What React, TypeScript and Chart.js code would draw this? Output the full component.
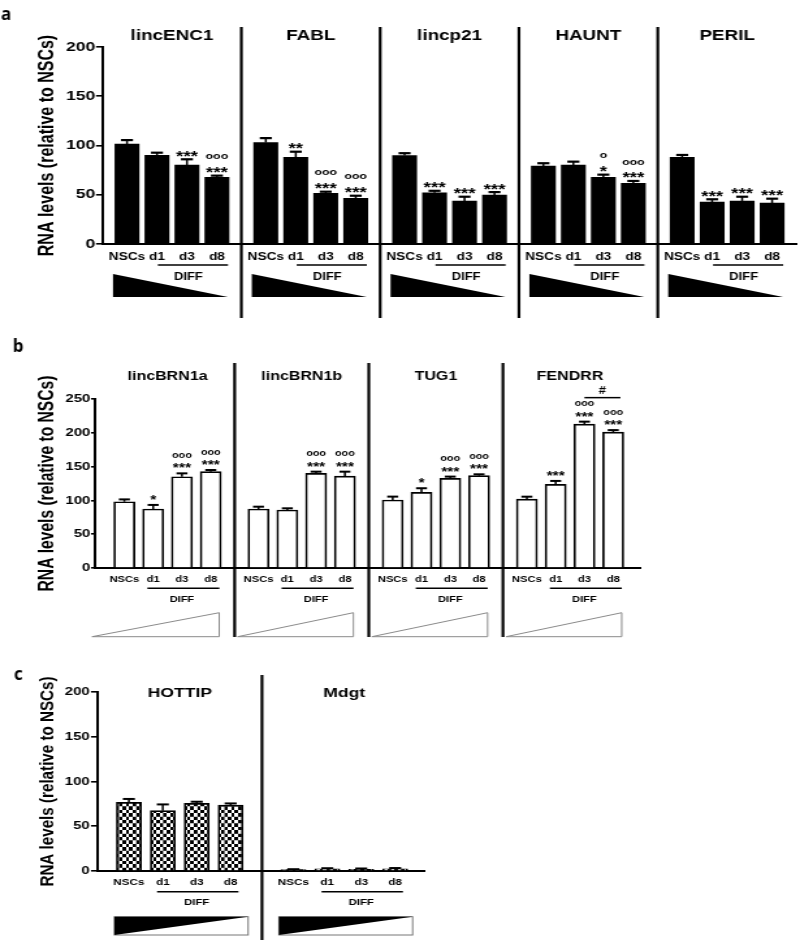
import React, { useEffect, useRef } from 'react';
import { Chart, registerables } from 'chart.js';

Chart.register(...registerables);

// ---------- page geometry (the figure is drawn narrow and stretched horizontally) ----------
const PAGE_W = 800;
const CANVAS_W = 615;
const SX = PAGE_W / CANVAS_W;
const R = (v: number) => v / SX;
const FONT = '"Liberation Sans", Arial, Helvetica, sans-serif';
const LETTER_FONT = '"Open Sans", "Noto Sans", sans-serif';

// ---------- data ----------
const TIME_POINTS = ['NSCs', 'd1', 'd3', 'd8'];
const DIFF_LABEL = 'DIFF';
const Y_TITLE = 'RNA levels (relative to NSCs)';

// panel a
const A_GENES = ['lincENC1', 'FABL', 'lincp21', 'HAUNT', 'PERIL'];
const A_MEAN = [
  [101.5, 90, 80, 67.7],
  [103, 88, 51.4, 46.4],
  [89.8, 52, 43.6, 49.7],
  [79.2, 80.2, 67.7, 61.6],
  [88, 42.6, 43.7, 41.6],
];
const A_SEM = [
  [4, 2.7, 6, 1.7],
  [4.5, 5.7, 1.7, 2.6],
  [2.4, 2, 4.4, 3],
  [2.8, 3.4, 2.7, 2.4],
  [2.4, 2.8, 4.3, 4.4],
];
const A_SIG = [
  [[], [], ['***'], ['***', 'ooo']],
  [[], ['**'], ['***', 'ooo'], ['***', 'ooo']],
  [[], ['***'], ['***'], ['***']],
  [[], [], ['*', 'o'], ['***', 'ooo']],
  [[], ['***'], ['***'], ['***']],
];
const A_Y_MAX = 200;
const A_Y_STEP = 50;

// panel b
const B_GENES = ['lincBRN1a', 'lincBRN1b', 'TUG1', 'FENDRR'];
const B_MEAN = [
  [98, 87.3, 135, 142.5],
  [87.3, 85.8, 140, 136],
  [100.6, 112, 132.7, 136.6],
  [102, 123.8, 213, 201],
];
const B_SEM = [
  [3.5, 6, 5, 2.5],
  [3.4, 2.5, 2.5, 6.5],
  [5, 6, 2.5, 2],
  [3.5, 5, 3.5, 3],
];
const B_SIG = [
  [[], ['*'], ['***', 'ooo'], ['***', 'ooo']],
  [[], [], ['***', 'ooo'], ['***', 'ooo']],
  [[], ['*'], ['***', 'ooo'], ['***', 'ooo']],
  [[], ['***'], ['***', 'ooo'], ['***', 'ooo']],
];
const B_BRACKET = { group: 3, from: 2, to: 3, label: '#' };
const B_Y_MAX = 250;
const B_Y_STEP = 50;

// panel c
const C_GENES = ['HOTTIP', 'Mdgt'];
const C_MEAN = [
  [76.8, 67.4, 75.6, 73.7],
  [1.5, 2.5, 2, 2.5],
];
const C_SEM = [
  [3.7, 7, 1.8, 1.8],
  [0.5, 0.6, 0.8, 0.8],
];
const C_SIG = [
  [[], [], [], []],
  [[], [], [], []],
];
const C_Y_MAX = 200;
const C_Y_STEP = 50;

// ---------- panel styles / layout ----------
type PanelCfg = any;

const A_CFG: PanelCfg = {
  letter: 'a', letterX: 6, letterY: 20,
  top: 0, height: 330,
  genes: A_GENES, means: A_MEAN, sems: A_SEM, sigs: A_SIG, yMax: A_Y_MAX, yStep: A_Y_STEP,
  axisX: 103, right: 797, areaTop: 47, areaBottom: 244,
  stride: 4.63, xMin: -0.8, xMax: 22.35,
  barW: 24, fill: 'black', borderW: 0,
  yTickSize: 13.5, yTickLen: 7, yTickPad: 0.5,
  yTitleSize: 16, yTitleX: 48,
  xTickSize: 10.5, xTickPad: 6.5,
  titleSize: 14.5, titleY: 35.5,
  sepTop: 27, sepBottom: 318,
  diffY: 265, diffTextY: 277, diffSize: 10, diffStart: 0.03, diffEnd: 0.37, diffTextOff: 0.05,
  tri: 'down', triTop: 274, triBottom: 297,
  starSize: 14.5, ringSize: 9.5, sigGap: 7, sigStep: 12, capHalf: 6, capW: 2.2, stemW: 2,
};

const B_CFG: PanelCfg = {
  letter: 'b', letterX: 18, letterY: 22,
  top: 330, height: 320,
  genes: B_GENES, means: B_MEAN, sems: B_SEM, sigs: B_SIG, yMax: B_Y_MAX, yStep: B_Y_STEP,
  axisX: 95, right: 640, areaTop: 69, areaBottom: 238,
  stride: 4.66, xMin: -1.02, xMax: 17.91,
  barW: 21, fill: 'white', borderW: 1.7,
  yTickSize: 11.5, yTickLen: 4, yTickPad: 0.5,
  yTitleSize: 15.6, yTitleX: 47.5,
  xTickSize: 8.6, xTickPad: 6,
  titleSize: 12.3, titleY: 46.7,
  sepTop: 33, sepBottom: 307,
  diffY: 258.3, diffTextY: 269.3, diffSize: 8.5, diffStart: -0.2, diffEnd: 0.3, diffTextOff: 0,
  tri: 'up', triTop: 282.7, triBottom: 306.7,
  starSize: 12, ringSize: 8.3, sigGap: 8, sigStep: 9.5, capHalf: 5.5, capW: 2, stemW: 2,
  bracket: B_BRACKET,
};

const C_CFG: PanelCfg = {
  letter: 'c', letterX: 18.5, letterY: 30,
  top: 650, height: 293,
  genes: C_GENES, means: C_MEAN, sems: C_SEM, sigs: C_SIG, yMax: C_Y_MAX, yStep: C_Y_STEP,
  axisX: 98, right: 425, areaTop: 42, areaBottom: 221,
  stride: 4.85, xMin: -0.91, xMax: 8.73,
  barW: 25, fill: 'checker', borderW: 1.7,
  yTickSize: 11.5, yTickLen: 7, yTickPad: 1,
  yTitleSize: 15.2, yTitleX: 47.5,
  xTickSize: 9, xTickPad: 5.8,
  titleSize: 13.5, titleY: 43.3,
  sepTop: 25, sepBottom: 290,
  diffY: 241.7, diffTextY: 252.3, diffSize: 8.8, diffStart: -0.17, diffEnd: 0.23, diffTextOff: 0,
  tri: 'rect', triTop: 266.7, triBottom: 285,
  starSize: 11.5, ringSize: 8, sigGap: 8, sigStep: 9.5, capHalf: 6, capW: 2, stemW: 2,
};

// ---------- helpers ----------
function seg(ctx: CanvasRenderingContext2D, x1: number, y1: number, x2: number, y2: number) {
  ctx.beginPath();
  ctx.moveTo(x1, y1);
  ctx.lineTo(x2, y2);
  ctx.stroke();
}

function makeChecker(ctx: CanvasRenderingContext2D) {
  const t = document.createElement('canvas');
  t.width = 20;
  t.height = 20;
  const c = t.getContext('2d')!;
  c.fillStyle = '#fff';
  c.fillRect(0, 0, 20, 20);
  c.fillStyle = '#000';
  c.fillRect(0, 0, 10, 10);
  c.fillRect(10, 10, 10, 10);
  const p = ctx.createPattern(t, 'repeat')!;
  p.setTransform(new DOMMatrix([R(3.4) / 10, 0, 0, 3.4 / 10, 0, 0]));
  return p;
}

function makePlugin(cfg: PanelCfg) {
  return {
    id: 'panelDeco',
    afterDatasetsDraw(chart: any) {
      const { ctx } = chart;
      const y = chart.scales.y;
      const meta = chart.getDatasetMeta(0);
      ctx.save();
      ctx.strokeStyle = '#000';
      ctx.fillStyle = '#000';
      ctx.textAlign = 'center';
      ctx.textBaseline = 'alphabetic';
      meta.data.forEach((bar: any, k: number) => {
        const g = Math.floor(k / 4);
        const i = k % 4;
        const m = cfg.means[g][i];
        const e = cfg.sems[g][i];
        const yb = y.getPixelForValue(m);
        const yt = y.getPixelForValue(m + e);
        const bx = bar.x;
        ctx.lineWidth = R(cfg.stemW);
        seg(ctx, bx, yb, bx, yt);
        ctx.lineWidth = cfg.capW;
        seg(ctx, bx - R(cfg.capHalf), yt, bx + R(cfg.capHalf), yt);
        const sig: string[] = cfg.sigs[g][i];
        sig.forEach((s, j) => {
          const cy = yt - cfg.sigGap - j * cfg.sigStep;
          if (s[0] === 'o') {
            ctx.font = `bold ${cfg.ringSize}px ${FONT}`;
            ctx.fillText(s, bx, cy + 0.27 * cfg.ringSize);
          } else {
            ctx.font = `bold ${cfg.starSize}px ${FONT}`;
            ctx.fillText(s, bx, cy + 0.58 * cfg.starSize);
          }
        });
      });
      if (cfg.bracket) {
        const b = cfg.bracket;
        const x = chart.scales.x;
        const base = b.group * cfg.stride;
        const top = Math.min(
          y.getPixelForValue(cfg.means[b.group][b.from] + cfg.sems[b.group][b.from]),
          y.getPixelForValue(cfg.means[b.group][b.to] + cfg.sems[b.group][b.to])
        );
        const ly = top - 24;
        const x1 = x.getPixelForValue(base + b.from);
        const x2 = x.getPixelForValue(base + b.to + 0.25);
        ctx.lineWidth = 1.5;
        seg(ctx, x1, ly, x2, ly);
        ctx.font = `bold 10px ${FONT}`;
        ctx.textBaseline = 'middle';
        ctx.fillText(b.label, (x1 + x2) / 2, ly - 6.5);
      }
      ctx.restore();
    },
    afterDraw(chart: any) {
      const { ctx, chartArea } = chart;
      const x = chart.scales.x;
      const px = (v: number) => x.getPixelForValue(v);
      const half = R(cfg.barW) / 2;
      const n = cfg.genes.length;
      ctx.save();
      ctx.fillStyle = '#000';
      ctx.strokeStyle = '#000';
      ctx.textAlign = 'center';
      ctx.textBaseline = 'middle';

      // group separators
      const sepX: number[] = [];
      ctx.lineWidth = 2.2;
      for (let g = 0; g < n - 1; g++) {
        const sx = (px(g * cfg.stride + 3) + px((g + 1) * cfg.stride)) / 2;
        sepX.push(sx);
        seg(ctx, sx, cfg.sepTop, sx, cfg.sepBottom);
      }

      for (let g = 0; g < n; g++) {
        const base = g * cfg.stride;
        const cx = (px(base) + px(base + 3)) / 2;
        // gene title
        ctx.fillStyle = '#000';
        ctx.font = `bold ${cfg.titleSize}px ${FONT}`;
        ctx.fillText(cfg.genes[g], cx, cfg.titleY);
        // DIFF underline + label
        ctx.lineWidth = 1.6;
        ctx.strokeStyle = '#000';
        seg(ctx, px(base + 1 + cfg.diffStart), cfg.diffY, px(base + 3 + cfg.diffEnd), cfg.diffY);
        ctx.font = `bold ${cfg.diffSize}px ${FONT}`;
        ctx.fillText(DIFF_LABEL, px(base + 2 + cfg.diffTextOff), cfg.diffTextY);

        // gradient wedge
        const leftEdge = px(base) - half;
        const rightEdge = px(base + 3) + half;
        if (cfg.tri === 'down') {
          ctx.beginPath();
          ctx.moveTo(leftEdge - R(2), cfg.triTop);
          ctx.lineTo(rightEdge - R(1), cfg.triBottom);
          ctx.lineTo(leftEdge - R(2), cfg.triBottom);
          ctx.closePath();
          ctx.fill();
        } else if (cfg.tri === 'up') {
          const tip = g === 0 ? chartArea.left - R(3) : sepX[g - 1] + R(3);
          const rx = rightEdge - R(2);
          ctx.beginPath();
          ctx.moveTo(tip, cfg.triBottom);
          ctx.lineTo(rx, cfg.triTop);
          ctx.lineTo(rx, cfg.triBottom);
          ctx.closePath();
          ctx.fillStyle = '#fff';
          ctx.fill();
          ctx.lineWidth = 1;
          ctx.strokeStyle = '#8a8a8a';
          ctx.stroke();
          ctx.fillStyle = '#000';
          ctx.strokeStyle = '#000';
        } else {
          const lx = leftEdge - R(2);
          const rx = rightEdge + R(5);
          ctx.lineWidth = 1;
          ctx.strokeStyle = '#777';
          ctx.strokeRect(lx, cfg.triTop, rx - lx, cfg.triBottom - cfg.triTop);
          ctx.beginPath();
          ctx.moveTo(lx, cfg.triTop);
          ctx.lineTo(rx, cfg.triTop);
          ctx.lineTo(lx, cfg.triBottom);
          ctx.closePath();
          ctx.fillStyle = '#000';
          ctx.fill();
          ctx.strokeStyle = '#000';
        }
      }

      // panel letter (drawn un-stretched)
      ctx.save();
      ctx.translate(R(cfg.letterX), cfg.letterY);
      ctx.scale(1 / SX, 1);
      ctx.font = `bold 17px ${LETTER_FONT}`;
      ctx.textBaseline = 'alphabetic';
      ctx.fillStyle = '#000';
      ctx.fillText(cfg.letter, 0, 0);
      ctx.restore();

      ctx.restore();
    },
  };
}

function buildChart(canvas: HTMLCanvasElement, cfg: PanelCfg) {
  const ctx = canvas.getContext('2d')!;
  const xs: number[] = [];
  const points: { x: number; y: number }[] = [];
  cfg.means.forEach((row: number[], g: number) =>
    row.forEach((m: number, i: number) => {
      const xv = g * cfg.stride + i;
      xs.push(xv);
      points.push({ x: xv, y: m });
    })
  );
  let bg: any = '#000';
  if (cfg.fill === 'white') bg = '#fff';
  if (cfg.fill === 'checker') bg = makeChecker(ctx);

  const padL = R(cfg.yTitleX) - cfg.yTitleSize * 0.6;
  const yWidth = R(cfg.axisX) - padL;
  const padR = CANVAS_W - R(cfg.right);
  const xHeight = cfg.height - cfg.areaBottom;

  return new Chart(canvas, {
    type: 'bar',
    data: {
      datasets: [
        {
          data: points as any,
          backgroundColor: bg,
          borderColor: '#000',
          borderWidth: cfg.borderW,
          borderSkipped: 'start',
          barThickness: R(cfg.barW),
        } as any,
      ],
    },
    options: {
      animation: false,
      responsive: false,
      events: [],
      layout: { padding: { left: padL, right: padR, top: cfg.areaTop, bottom: 0 } },
      plugins: { legend: { display: false }, tooltip: { enabled: false } },
      scales: {
        x: {
          type: 'linear',
          min: cfg.xMin,
          max: cfg.xMax,
          offset: false,
          afterBuildTicks: (axis: any) => {
            axis.ticks = xs.map((v) => ({ value: v }));
          },
          afterFit: (s: any) => {
            s.height = xHeight;
          },
          ticks: {
            autoSkip: false,
            maxRotation: 0,
            minRotation: 0,
            padding: cfg.xTickPad,
            color: '#000',
            font: { family: FONT, size: cfg.xTickSize, weight: 'bold' },
            callback: (_v: any, idx: number) => TIME_POINTS[idx % 4],
          },
          grid: { display: false, drawTicks: false, offset: false },
          border: { display: true, color: '#000', width: 2 },
        },
        y: {
          min: 0,
          max: cfg.yMax,
          afterFit: (s: any) => {
            s.width = yWidth;
          },
          ticks: {
            stepSize: cfg.yStep,
            padding: cfg.yTickPad,
            color: '#000',
            font: { family: FONT, size: cfg.yTickSize, weight: 'bold' },
          },
          grid: {
            display: true,
            drawOnChartArea: false,
            drawTicks: true,
            tickLength: R(cfg.yTickLen),
            color: '#000',
            lineWidth: 1.6,
          },
          border: { display: true, color: '#000', width: 2 },
          title: {
            display: true,
            text: Y_TITLE,
            color: '#000',
            padding: 0,
            font: { family: FONT, size: cfg.yTitleSize, weight: 'bold' },
          },
        },
      },
    } as any,
    plugins: [makePlugin(cfg)],
  });
}

function Panel({ cfg }: { cfg: PanelCfg }) {
  const ref = useRef<HTMLCanvasElement>(null);
  useEffect(() => {
    const chart = buildChart(ref.current!, cfg);
    return () => chart.destroy();
  }, [cfg]);
  return (
    <canvas
      ref={ref}
      width={CANVAS_W}
      height={cfg.height}
      style={{ position: 'absolute', left: 0, top: cfg.top, width: PAGE_W, height: cfg.height }}
    />
  );
}

export default function App() {
  return (
    <div style={{ position: 'absolute', left: 0, top: 0, width: PAGE_W, height: 943, background: '#fff', overflow: 'hidden' }}>
      <Panel cfg={A_CFG} />
      <Panel cfg={B_CFG} />
      <Panel cfg={C_CFG} />
    </div>
  );
}
